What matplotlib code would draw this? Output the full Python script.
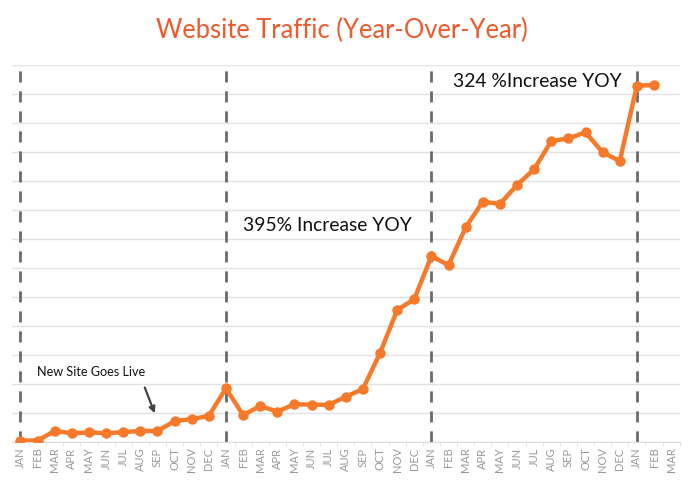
import numpy as np
import matplotlib
matplotlib.use("Agg")
import matplotlib.pyplot as plt

# month labels along the x axis (3 years + 3 months)
months = ["JAN", "FEB", "MAR", "APR", "MAY", "JUN",
          "JUL", "AUG", "SEP", "OCT", "NOV", "DEC"]
tick_labels = months * 3 + ["JAN", "FEB", "MAR"]

# traffic (grid units)
traffic = [0.05, 0.05, 0.38, 0.30, 0.33, 0.30, 0.34, 0.38, 0.38, 0.72, 0.79, 0.90,
           1.85, 0.93, 1.24, 1.05, 1.30, 1.29, 1.28, 1.56, 1.83, 3.07, 4.55, 4.93,
           6.41, 6.10, 7.40, 8.29, 8.21, 8.86, 9.41, 10.38, 10.47, 10.68, 9.99, 9.69,
           12.29, 12.31]

year_starts = [0, 12, 24, 36]

title = "Website Traffic (Year-Over-Year)"
note_live = "New Site Goes Live"
note_y2 = "395% Increase YOY"
note_y3 = "324 %Increase YOY"

orange = "#F7792A"

fig = plt.figure(figsize=(7, 4.82), dpi=100)
ax = fig.add_axes([0.017, 0.083, 0.954, 0.782])

x = np.arange(len(traffic))
ax.plot(x, traffic, color=orange, lw=3.2, marker="o", ms=6.5, zorder=3,
        solid_capstyle="round", solid_joinstyle="round")

for xs in year_starts:
    ax.axvline(xs, color="#6b6b6b", lw=2, ls=(0, (4, 3.2)), zorder=2)

ax.set_xlim(-0.5, len(tick_labels) - 0.5)
ax.set_ylim(0, 13)
ax.set_yticks(np.arange(0, 14))
ax.yaxis.grid(True, color="#e2e2e2", lw=1)
ax.tick_params(axis="y", left=False, labelleft=False)

ax.set_xticks(np.arange(len(tick_labels)))
ax.set_xticklabels(tick_labels, rotation=90, fontsize=8, color="#999999",
                   family="Lato")
ax.tick_params(axis="x", which="major", length=0, pad=4)
ax.set_xticks(np.arange(len(tick_labels)) + 0.5, minor=True)
ax.tick_params(axis="x", which="minor", length=3, color="#dddddd")

for s in ["top", "right", "left"]:
    ax.spines[s].set_visible(False)
ax.spines["bottom"].set_color("#dddddd")

fig.text(0.489, 0.936, title, ha="center", va="center", fontsize=18.4,
         color="#F0592B", family="Lato")

ax.text(17.95, 7.47, note_y2, ha="center", va="center", fontsize=13.9,
        family="Lato", color="#111111")
ax.text(30.17, 12.42, note_y3, ha="center", va="center", fontsize=13.9,
        family="Lato", color="#111111")
ax.text(4.1, 2.41, note_live, ha="center", va="center", fontsize=9.1,
        family="Lato", color="#111111")
ax.annotate("", xy=(7.9, 0.9), xytext=(7.2, 1.97),
            arrowprops=dict(arrowstyle="-|>", color="#444444", lw=1.6,
                            mutation_scale=9))

fig.savefig("out.png", dpi=100)
